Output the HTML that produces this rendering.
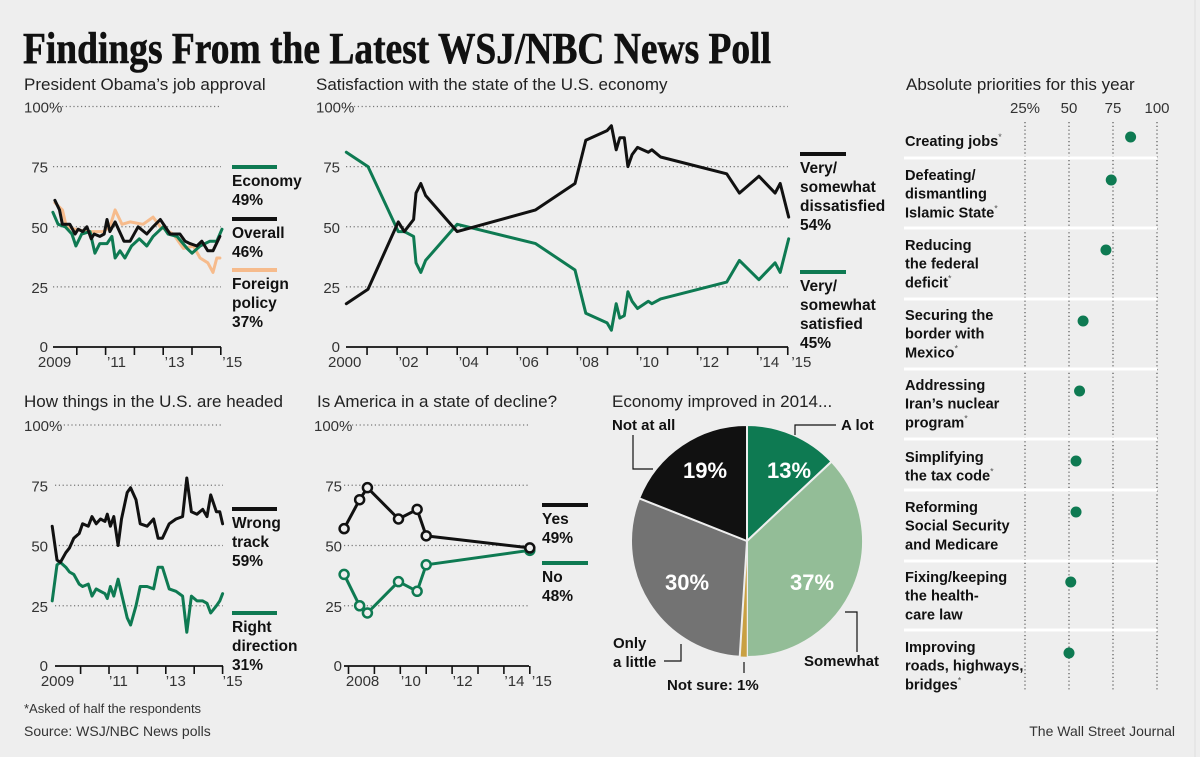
<!DOCTYPE html>
<html><head><meta charset="utf-8">
<style>
html,body{margin:0;padding:0;background:#eeeeee;}
svg{display:block;font-family:"Liberation Sans",sans-serif;}
.t{font-size:17px;fill:#222;}
.ax{font-size:15px;fill:#333;}
.lg{font-size:15.5px;font-weight:bold;fill:#111;}
.pl{font-size:15px;font-weight:bold;fill:#111;}
.pr{font-size:14.6px;font-weight:bold;fill:#111;}
.pv{font-size:22px;font-weight:bold;fill:#ffffff;}
</style></head>
<body>
<svg id="chart" width="1200" height="757" viewBox="0 0 1200 757" xmlns="http://www.w3.org/2000/svg">
<rect x="0" y="0" width="1200" height="757" fill="#eeeeee"/>
<line x1="1195" y1="0" x2="1195" y2="757" stroke="#dddddd" stroke-width="1"/>
<text x="23" y="63" font-family="Liberation Serif, serif" font-weight="bold" font-size="44" textLength="748" lengthAdjust="spacingAndGlyphs" fill="#111" stroke="#111" stroke-width="0.6">Findings From the Latest WSJ/NBC News Poll</text>
<text class="t" x="24" y="90">President Obama’s job approval</text>
<text class="t" x="316" y="90">Satisfaction with the state of the U.S. economy</text>
<text class="t" x="906" y="90">Absolute priorities for this year</text>
<text class="t" x="24" y="407">How things in the U.S. are headed</text>
<text class="t" x="317" y="407">Is America in a state of decline?</text>
<text class="t" x="612" y="407">Economy improved in 2014...</text>
<text x="24" y="713" font-size="13" fill="#333">*Asked of half the respondents</text>
<text x="24" y="736" font-size="14" fill="#333">Source: WSJ/NBC News polls</text>
<text x="1175" y="736" font-size="14" fill="#333" text-anchor="end">The Wall Street Journal</text>
</svg>
<script>
// ---- Approval data ----
const apOverallYears=[2009.24,2009.4,2009.5,2009.76,2009.94,2010.05,2010.2,2010.35,2010.5,2010.6,2010.8,2010.95,2011.05,2011.15,2011.33,2011.64,2011.85,2012.13,2012.43,2012.65,2012.9,2013.24,2013.58,2013.76,2013.93,2014.17,2014.34,2014.55,2014.73,2014.97];
const apOverallValues=[61,57,51,51,47,49,48,50,45,47,46,47,53,48,52,44,44,50,47,50,53,47,47,44,43,42,44,40,40,46];
const apEconomyYears=[2009.17,2009.35,2009.6,2009.83,2009.97,2010.17,2010.46,2010.63,2010.8,2011.05,2011.22,2011.33,2011.5,2011.67,2011.9,2012.17,2012.43,2012.65,2013.0,2013.17,2013.48,2013.83,2014.0,2014.28,2014.62,2014.86,2015.04];
const apEconomyValues=[56,51,50,47,42,47,48,39,43,43,46,37,40,37,42,45,42,46,50,47,46,41,39,42,44,44,49];
const apForeignYears=[2009.24,2009.5,2009.64,2009.94,2010.35,2010.7,2010.92,2011.15,2011.33,2011.57,2011.85,2012.3,2012.65,2012.9,2013.35,2013.7,2014.05,2014.28,2014.55,2014.73,2014.86,2014.97];
const apForeignValues=[60,57,50,49,48,48,48,50,57,51,52,51,54,50,47,41,42,37,35,31,37,37];
const apTickYears=[2010,2011,2012,2013,2014,2015];
const apLabelYears=[2008.65,2011.05,2013.05,2015.05];
const apLabels=["2009","’11","’13","’15"];
// ---- Satisfaction data ----
const satYears=[2000.31,2001.03,2002.04,2002.24,2002.55,2002.63,2002.79,2002.95,2004.0,2006.61,2007.92,2008.28,2008.99,2009.13,2009.29,2009.41,2009.56,2009.68,2009.82,2010.0,2010.36,2010.48,2010.77,2012.97,2013.39,2014.04,2014.58,2014.75,2015.03];
const satDissatisfied=[18,24,52,48,53,64,68,63,48,57,68,86,90,92,82,87,87,75,80,83,81,82,79,72,64,71,64,68,54];
const satSatisfied=[81,75,48,48,46,35,31,36,51,43,32,14,10,7,18,12,13,23,19,16,19,18,20,27,36,28,35,31,45];
const satTickYears=[2001,2002,2003,2004,2005,2006,2007,2008,2009,2010,2011,2012,2013,2014,2015];
const satLabelYears=[1999.7,2002.05,2004.05,2006.05,2008.05,2010.05,2012.05,2014.05,2015.12];
const satLabels=["2000","’02","’04","’06","’08","’10","’12","’14","’15"];
// ---- Direction data ----
const dirYears=[2009.0,2009.17,2009.29,2009.48,2009.61,2009.76,2009.95,2010.07,2010.27,2010.4,2010.55,2010.7,2010.86,2010.94,2011.05,2011.17,2011.32,2011.44,2011.64,2011.76,2011.95,2012.1,2012.34,2012.57,2012.73,2012.88,2013.12,2013.36,2013.59,2013.74,2013.9,2014.1,2014.3,2014.45,2014.58,2014.78,2014.9,2015.0];
const dirWrong=[58,44,43,47,49,53,55,59,58,62,59,61,60,63,58,62,50,61,72,74,69,59,58,61,53,53,59,61,62,78,64,63,65,62,71,64,64,59];
const dirRight=[27,42,43,41,39,38,34,33,34,29,32,31,30,28,33,29,36,30,20,17,25,33,33,32,41,41,32,31,29,14,29,27,27,26,22,25,27,30];
const dirTickYears=[2010,2011,2012,2013,2014,2015];
const dirLabelYears=[2008.6,2011.0,2013.0,2015.0];
const dirLabels=["2009","’11","’13","’15"];
// ---- Decline data ----
const decYears=[2007.83,2008.43,2008.73,2009.93,2010.65,2011.0,2015.0];
const decYes=[57,69,74,61,65,54,49];
const decNo=[38,25,22,35,31,42,48];
const decTickYears=[2008,2009,2010,2011,2012,2013,2014,2015];
const decLabelYears=[2007.9,2010.02,2012.02,2014.02,2015.08];
const decLabels=["2008","’10","’12","’14","’15"];
// ---- Pie data ----
const pieLabels=["A lot","Somewhat","Not sure","Only a little","Not at all"];
const pieValues=[13,37,1,30,19];
const pieShown=["13%","37%","","30%","19%"];
// ---- Priorities data ----
const priLabels=[["Creating jobs*"],["Defeating/","dismantling","Islamic State*"],["Reducing","the federal","deficit*"],["Securing the","border with","Mexico*"],["Addressing","Iran’s nuclear","program*"],["Simplifying","the tax code*"],["Reforming","Social Security","and Medicare"],["Fixing/keeping","the health-","care law"],["Improving","roads, highways,","bridges*"]];
const priValues=[85,74,71,58,56,54,54,51,50];
const priTicks=[25,50,75,100];

const NS="http://www.w3.org/2000/svg";
const svg=document.getElementById('chart');
const GREEN="#0e7a52",BLACK="#111111",ORANGE="#f6bb8c";
function mk(tag,attrs,parent){const e=document.createElementNS(NS,tag);for(const k in attrs)e.setAttribute(k,attrs[k]);(parent||svg).appendChild(e);return e;}
function txt(x,y,s,cls,anchor){const t=mk('text',{x:x,y:y,'class':cls||'ax'});if(anchor)t.setAttribute('text-anchor',anchor);t.textContent=s;return t;}

function axes(c){
  const levels=[100,75,50,25];
  levels.forEach(v=>{
    const y=c.y(v);
    const g=mk('line',{x1:v===100?c.gx100:c.gx0,x2:c.gx1,y1:y,y2:y,stroke:'#777','stroke-width':1.2,'stroke-dasharray':'1.2 2.6'});
    
    
    const lab=v===100?txt(c.lab100x,y+6,'100%'):txt(c.labRx,y+6,String(v),'ax','end');
    
    
  });
  const z=txt(c.labRx,c.y(0)+5,'0','ax','end');
  
  
  const a=mk('line',{x1:c.gx0,x2:c.gx1,y1:c.y(0),y2:c.y(0),stroke:'#111','stroke-width':1.8});
  
  
  c.ticks.forEach(yr=>{
    const x=c.x(yr);
    const t=mk('line',{x1:x,x2:x,y1:c.y(0),y2:c.y(0)+8,stroke:'#111','stroke-width':1.6});
    
    
  });
  c.labelYears.forEach((yr,i)=>{
    const t=txt(c.x(yr),c.y(0)+20,c.labels[i]);
    
    
  });
}
function series(c,xs,vs,color,name,w){
  const d=xs.map((yr,i)=>(i?'L':'M')+c.x(yr).toFixed(1)+' '+c.y(vs[i]).toFixed(1)).join(' ');
  const p=mk('path',{d:d,fill:'none',stroke:color,'stroke-width':w||3,'stroke-linejoin':'round','stroke-linecap':'round'});
  
  
  return p;
}
function legend(x,y,color,lines,name,len){
  const l=mk('line',{x1:x,x2:x+(len||45),y1:y,y2:y,stroke:color,'stroke-width':4});
  
  
  lines.forEach((s,i)=>{
    const t=txt(x,y+19+i*19,s,'lg');
    
    
  });
}

// Approval chart
const ap={name:'approval',x:yr=>48+(yr-2009)*28.8,y:v=>347-v*2.405,gx0:53,gx100:62,gx1:221,lab100x:24,labRx:48,ticks:apTickYears,labelYears:apLabelYears,labels:apLabels};
axes(ap);
series(ap,apForeignYears,apForeignValues,ORANGE,'foreign-policy-line',3);
series(ap,apEconomyYears,apEconomyValues,GREEN,'economy-line',3);
series(ap,apOverallYears,apOverallValues,BLACK,'overall-line',3);
legend(232,167,GREEN,['Economy','49%'],'legend-economy');
legend(232,219,BLACK,['Overall','46%'],'legend-overall');
legend(232,270,ORANGE,['Foreign','policy','37%'],'legend-foreign-policy');

// Satisfaction chart
const sat={name:'satisfaction',x:yr=>337+(yr-2000)*30.05,y:v=>347-v*2.405,gx0:346,gx100:354,gx1:788,lab100x:316,labRx:340,ticks:satTickYears,labelYears:satLabelYears,labels:satLabels};
axes(sat);
series(sat,satYears,satSatisfied,GREEN,'satisfied-line',3);
series(sat,satYears,satDissatisfied,BLACK,'dissatisfied-line',3);
legend(800,154,BLACK,['Very/','somewhat','dissatisfied','54%'],'legend-dissatisfied',46);
legend(800,272,GREEN,['Very/','somewhat','satisfied','45%'],'legend-satisfied',46);

// Direction chart
const dir={name:'direction',x:yr=>52.2+(yr-2009)*28.4,y:v=>666-v*2.41,gx0:55,gx100:60,gx1:223,lab100x:24,labRx:48,ticks:dirTickYears,labelYears:dirLabelYears,labels:dirLabels};
axes(dir);
series(dir,dirYears,dirRight,GREEN,'right-direction-line',3);
series(dir,dirYears,dirWrong,BLACK,'wrong-track-line',3);
legend(232,509,BLACK,['Wrong','track','59%'],'legend-wrong-track');
legend(232,613,GREEN,['Right','direction','31%'],'legend-right-direction');

// Decline chart
const dec={name:'decline',x:yr=>348.5+(yr-2008)*25.9,y:v=>666-v*2.41,gx0:344,gx100:352,gx1:529,lab100x:314,labRx:342,ticks:decTickYears,labelYears:decLabelYears,labels:decLabels};
axes(dec);
series(dec,decYears,decNo,GREEN,'no-line',3);
series(dec,decYears,decYes,BLACK,'yes-line',3);
[[decNo,GREEN,'no-marker'],[decYes,BLACK,'yes-marker']].forEach(s=>{
  decYears.forEach((yr,i)=>{
    const c=mk('circle',{cx:dec.x(yr),cy:dec.y(s[0][i]),r:4.5,fill:'#eeeeee',stroke:s[1],'stroke-width':2.5});
    
    
  });
});
legend(542,505,BLACK,['Yes','49%'],'legend-yes',46);
legend(542,563,GREEN,['No','48%'],'legend-no',46);

// Pie
const pcx=747,pcy=541,pr=116;
const pieColors=["#0e7a52","#93bd97","#c9a042","#737373","#111111"];
const pieLabelPos=[[789,478],[812,590],[0,0],[687,590],[705,478]];
let acc=0;const tot=pieValues.reduce((a,b)=>a+b,0);
pieValues.forEach((v,i)=>{
  const a0=acc/tot*2*Math.PI;acc+=v;const a1=acc/tot*2*Math.PI;
  const x0=pcx+pr*Math.sin(a0),y0=pcy-pr*Math.cos(a0),x1=pcx+pr*Math.sin(a1),y1=pcy-pr*Math.cos(a1);
  const large=(a1-a0)>Math.PI?1:0;
  const p=mk('path',{d:`M${pcx} ${pcy} L${x0.toFixed(2)} ${y0.toFixed(2)} A${pr} ${pr} 0 ${large} 1 ${x1.toFixed(2)} ${y1.toFixed(2)} Z`,fill:pieColors[i],stroke:'#eeeeee','stroke-width':v<3?0.5:2});
  
  
  if(pieShown[i]){
    const t=txt(pieLabelPos[i][0],pieLabelPos[i][1],pieShown[i],'pv','middle');
    
    
  }
});
[['M633 435 L633 469 L653 469','not-at-all-leader'],['M795 435 L795 425 L836 425','a-lot-leader'],['M845 612 L857 612 L857 652','somewhat-leader'],['M664 661 L681 661 L681 644','only-a-little-leader'],['M744 662 L744 673','not-sure-leader']].forEach(l=>{
  const p=mk('path',{d:l[0],fill:'none',stroke:'#111','stroke-width':1.2});
  
  
});
[[612,430,'Not at all'],[841,430,'A lot'],[613,648,'Only'],[613,667,'a little'],[804,666,'Somewhat'],[667,690,'Not sure: 1%']].forEach(l=>{
  const t=txt(l[0],l[1],l[2],'pl');
  
  
});

// Priorities
const px=v=>981+v*1.76;
const rowDotY=[137,180,250,321,391,461,512,582,653];
const rowTextY=[146,180,250,320,390,462,512,582,652];
const sepY=[158,228,299,369,439,490,561,630];
priTicks.forEach((v,i)=>{
  const l=mk('line',{x1:px(v),x2:px(v),y1:122,y2:692,stroke:'#555','stroke-width':1.2,'stroke-dasharray':'1.2 2.6'});
  
  
  const t=txt(px(v),113,i===0?v+'%':String(v),'ax','middle');
  
  
});
sepY.forEach(y=>{
  const l=mk('line',{x1:904,x2:1157,y1:y,y2:y,stroke:'#ffffff','stroke-width':3});
  
  
});
priLabels.forEach((lines,i)=>{
  lines.forEach((s,j)=>{
    const star=s.endsWith('*');
    const t=txt(905,rowTextY[i]+j*18.7,star?s.slice(0,-1):s,'pr');
    if(star){
      const ts=mk('tspan',{'font-size':'9','font-weight':'normal',dy:'-6',fill:'#555'},t);
      ts.textContent='*';
    }
    
    
  });
  const c=mk('circle',{cx:px(priValues[i]),cy:rowDotY[i],r:5.5,fill:GREEN});
  
  
});
</script>
</body></html>
